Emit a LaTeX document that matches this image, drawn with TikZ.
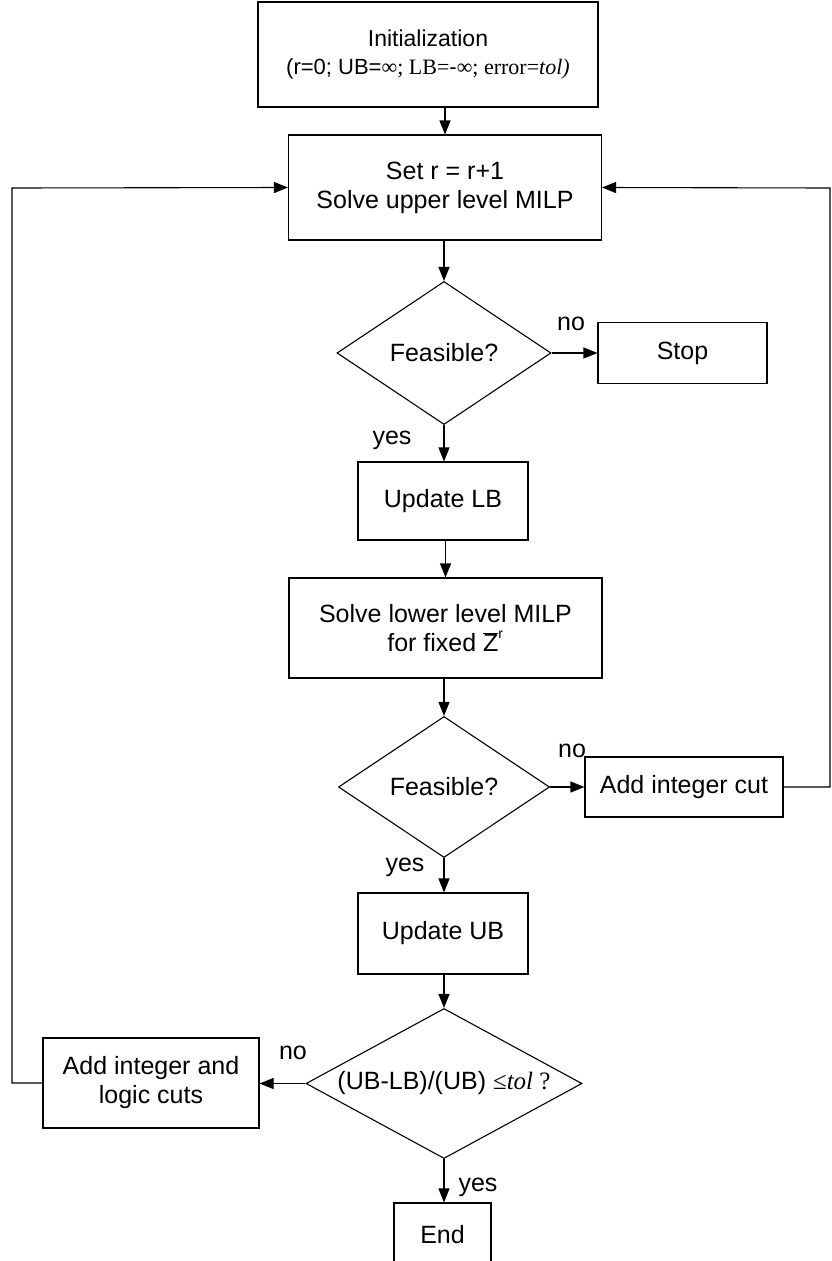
\documentclass[tikz,border=0pt]{standalone}
\usepackage{fontspec}
\setmainfont{Liberation Sans}
\newfontfamily\tms{Liberation Serif}
\usetikzlibrary{shapes.geometric,arrows.meta}
\begin{document}
\begin{tikzpicture}[x=1pt,y=-1pt,
  every node/.style={font=\fontsize{25}{29}\selectfont},
  box/.style={draw,line width=1.1pt,align=center,inner sep=0pt},
  dia/.style={draw,line width=1.1pt,diamond,shape aspect=1.85,inner sep=0pt,align=center},
  lbl/.style={inner sep=0pt},
  arr/.style={line width=1.1pt,-{Triangle[length=14pt,width=11pt]}},
  ln/.style={line width=1.1pt}]
\fill[white] (0,0) rectangle (831,1261);
\useasboundingbox (0,0) rectangle (831,1261);

\node[box,minimum width=340,minimum height=105,font=\fontsize{23}{28}\selectfont] (init) at (428,54.5)
  {Initialization\\{\fontsize{22}{28}\selectfont(r=0; UB={\tms ∞; LB=}-{\tms ∞; error=\itshape tol)}}};
\node[box,minimum width=313,minimum height=105] (set) at (445,187.5)
  {Set r = r+1\\Solve upper level MILP};
\node[dia,minimum width=214,minimum height=143] (d1) at (444,353) {Feasible?};
\node[box,minimum width=169,minimum height=61] (stop) at (682.5,353) {Stop};
\node[box,minimum width=170,minimum height=78] (ulb) at (443,501) {Update LB};
\node[box,minimum width=313,minimum height=100] (slow) at (445.5,628)
  {Solve lower level MILP\\for fixed $\overline{\mbox{Z}}^{\mbox{\fontsize{14}{14}\selectfont r}}$};
\node[dia,minimum width=211,minimum height=141] (d2) at (444,787) {Feasible?};
\node[box,minimum width=198,minimum height=60] (aic) at (684,787) {Add integer cut};
\node[box,minimum width=170,minimum height=81] (uub) at (443,933.5) {Update UB};
\node[dia,minimum width=276,minimum height=150] (d3) at (444,1083.5)
  {(UB-LB)/(UB) {\tms ≤\itshape tol\upshape\ ?}};
\node[box,minimum width=216,minimum height=90] (ailc) at (151,1083)
  {Add integer and\\logic cuts};
\node[box,minimum width=97,minimum height=64] (end) at (442.5,1235) {End};

\coordinate (rt) at (830,188);
\coordinate (lt) at (12,188);

\draw[arr] (init.south -| set.north) -- (set.north);
\draw[arr] (set.south -| d1.north) -- (d1.north);
\draw[arr] (d1.east) -- (d1.east -| stop.west);
\draw[arr] (d1.south) -- (d1.south |- ulb.north);
\draw[arr] (ulb.south -| slow.north) -- (slow.north);
\draw[arr] (slow.south -| d2.north) -- (d2.north);
\draw[arr] (d2.east) -- (d2.east -| aic.west);
\draw[arr] (d2.south) -- (d2.south |- uub.north);
\draw[arr] (uub.south -| d3.north) -- (d3.north);
\draw[arr] (d3.south) -- (d3.south |- end.north);
\draw[arr] (d3.west) -- (d3.west -| ailc.east);
\draw[arr] (aic.east) -| (rt) -- (set.east);
\draw[arr] (ailc.west) -| (lt) -- (set.west);

\node[lbl] (no1) at (571,324) {no};
\node[lbl] (yes1) at (392,440) {yes};
\node[lbl] (no2) at (572,751) {no};
\node[lbl] (yes2) at (405,867) {yes};
\node[lbl] (no3) at (293,1053) {no};
\node[lbl] (yes3) at (478,1187) {yes};
\end{tikzpicture}
\end{document}
